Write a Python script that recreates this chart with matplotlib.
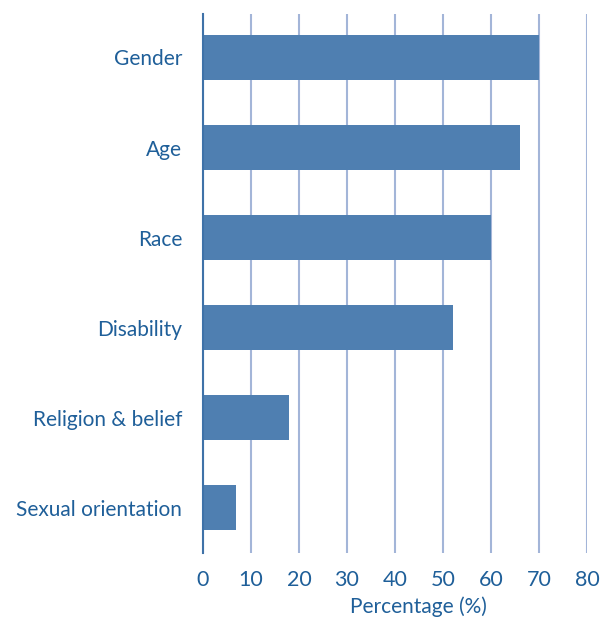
import matplotlib
matplotlib.use('Agg')
import matplotlib.pyplot as plt

categories = ['Sexual orientation', 'Religion & belief', 'Disability', 'Race', 'Age', 'Gender']
values = [7, 18, 52, 60, 66, 70]
xticks = [0, 10, 20, 30, 40, 50, 60, 70, 80]

text_color = '#1f5f99'
bar_color = '#4f7fb1'
grid_color = '#a3b5d8'

plt.rcParams['font.family'] = ['Lato', 'DejaVu Sans']

fig = plt.figure(figsize=(6.02, 6.19), dpi=100)
ax = fig.add_axes([0.337, 0.1066, 0.638, 0.8704])

ax.barh(range(len(categories)), values, height=0.5, color=bar_color, zorder=3)

ax.set_xlim(0, 80)
ax.set_ylim(-0.5, 5.48)
ax.set_xticks(xticks)
ax.set_xticklabels([str(t) for t in xticks], fontsize=15.5, color=text_color)
ax.set_yticks(range(len(categories)))
ax.set_yticklabels(categories, fontsize=15, color=text_color)
ax.tick_params(axis='both', length=0)
ax.tick_params(axis='x', pad=12)
ax.tick_params(axis='y', pad=15)

ax.xaxis.grid(True, color=grid_color, linewidth=1.5, zorder=0)
for s in ['top', 'right', 'bottom']:
    ax.spines[s].set_visible(False)
ax.spines['left'].set_color('#3f72a8')
ax.spines['left'].set_linewidth(1.5)
ax.spines['left'].set_zorder(4)

ax.set_xlabel('Percentage (%)', fontsize=15, color=text_color, va='center')
ax.xaxis.set_label_coords(0.56, -0.1)

fig.savefig('out.png', dpi=100)
plt.close(fig)
